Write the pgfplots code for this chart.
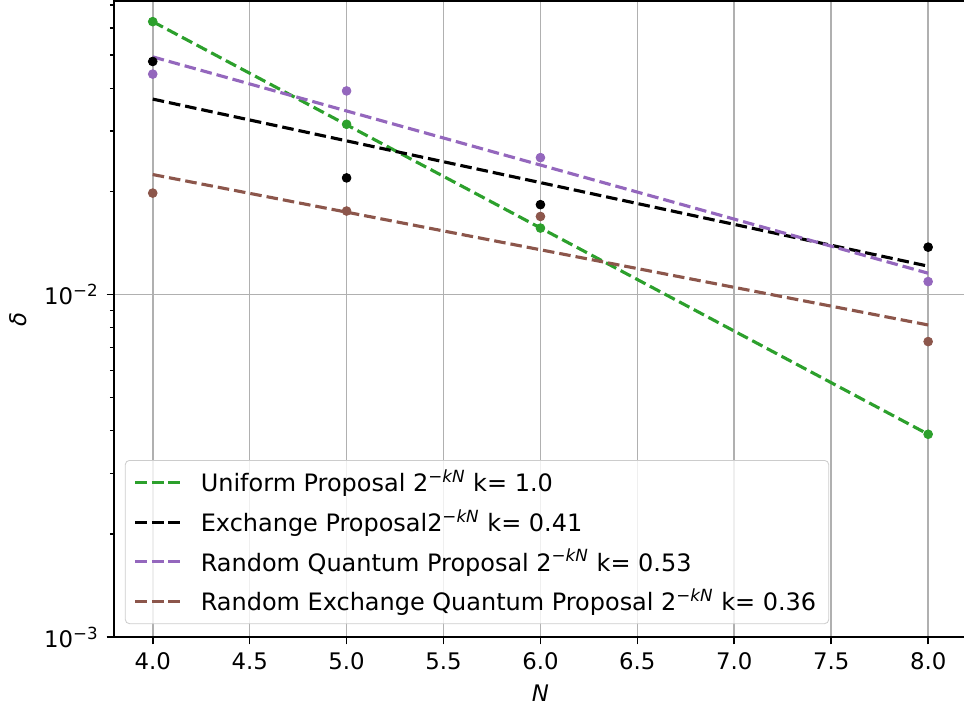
\documentclass[border=0pt,11pt]{standalone}
\usepackage{fontspec}
\setmainfont{DejaVu Sans}
\usepackage{pgfplots}
\pgfplotsset{compat=1.18}
\definecolor{mgreen}{HTML}{2CA02C}
\definecolor{mpurple}{HTML}{9467BD}
\definecolor{mbrown}{HTML}{8C564B}
\definecolor{gridgray}{HTML}{B0B0B0}
\begin{document}
\begin{tikzpicture}
\path[use as bounding box] (-54.7pt,-36.5pt) rectangle (408pt,305.8pt);
\begin{axis}[
  scale only axis,
  width=409.4pt, height=305.3pt,
  xmin=3.8, xmax=8.2,
  ymode=log, ymin=1e-3, ymax=0.0719,
  xtick={4,4.5,5,5.5,6,6.5,7,7.5,8},
  xticklabels={4.0,4.5,5.0,5.5,6.0,6.5,7.0,7.5,8.0},
  ytick={0.001,0.01},
  yticklabels={10\textsuperscript{−3},10\textsuperscript{−2}},
  minor ytick={0.002,0.003,0.004,0.005,0.006,0.007,0.008,0.009,0.02,0.03,0.04,0.05,0.06,0.07},
  xmajorgrids, ymajorgrids,
  major grid style={gridgray, line width=0.8pt},
  tick align=outside, tick pos=left,
  major tick length=3.5pt, minor tick length=2pt,
  every tick/.style={black, line width=0.8pt},
  minor tick style={black, line width=0.6pt},
  axis line style={line width=0.8pt},
  xlabel={\textit{N}}, ylabel={\textit{δ}},
  y label style={at={(axis description cs:-0.093,0.5)}, anchor=south, rotate=0},
  legend cell align=left,
  legend image code/.code={\draw[mark repeat=2,mark phase=2] plot coordinates {(0cm,0cm) (0.4cm,0cm) (0.8cm,0cm)};},
  legend style={at={(0.0128,0.0205)}, anchor=south west, draw=black!20, rounded corners=2pt,
    fill=white, fill opacity=0.8, text opacity=1, row sep=2.9pt, inner xsep=4pt, inner ysep=2.6pt,
    font=\fontsize{11.5}{13.5}\selectfont,
    /tikz/every odd column/.append style={column sep=6pt}},
]
% Uniform
\addplot[only marks, mark=*, mgreen, mark size=2.1pt, forget plot] coordinates {(4,0.0626)(5,0.0314)(6,0.01563)(8,0.00391)};
\addplot[mgreen, no marks, line width=1.5pt, dash pattern=on 5.55pt off 2.4pt] coordinates {(4,0.0626)(8,0.00391)};
\addlegendentry{Uniform Proposal 2\textsuperscript{−\textit{kN}} k= 1.0}
% Exchange
\addplot[only marks, mark=*, black, mark size=2.1pt, forget plot] coordinates {(4,0.0479)(5,0.0219)(6,0.0183)(8,0.01375)};
\addplot[black, no marks, line width=1.5pt, dash pattern=on 5.55pt off 2.4pt] coordinates {(4,0.0372)(8,0.0121)};
\addlegendentry{Exchange Proposal2\textsuperscript{−\textit{kN}} k= 0.41}
% Random Quantum
\addplot[only marks, mark=*, mpurple, mark size=2.1pt, forget plot] coordinates {(4,0.0440)(5,0.0393)(6,0.0251)(8,0.01091)};
\addplot[mpurple, no marks, line width=1.5pt, dash pattern=on 5.55pt off 2.4pt] coordinates {(4,0.0494)(8,0.01154)};
\addlegendentry{Random Quantum Proposal 2\textsuperscript{−\textit{kN}} k= 0.53}
% Random Exchange Quantum
\addplot[only marks, mark=*, mbrown, mark size=2.1pt, forget plot] coordinates {(4,0.01978)(5,0.01753)(6,0.0169)(8,0.00729)};
\addplot[mbrown, no marks, line width=1.5pt, dash pattern=on 5.55pt off 2.4pt] coordinates {(4,0.0224)(8,0.00815)};
\addlegendentry{Random Exchange Quantum Proposal 2\textsuperscript{−\textit{kN}} k= 0.36}
\end{axis}
\end{tikzpicture}
\end{document}
